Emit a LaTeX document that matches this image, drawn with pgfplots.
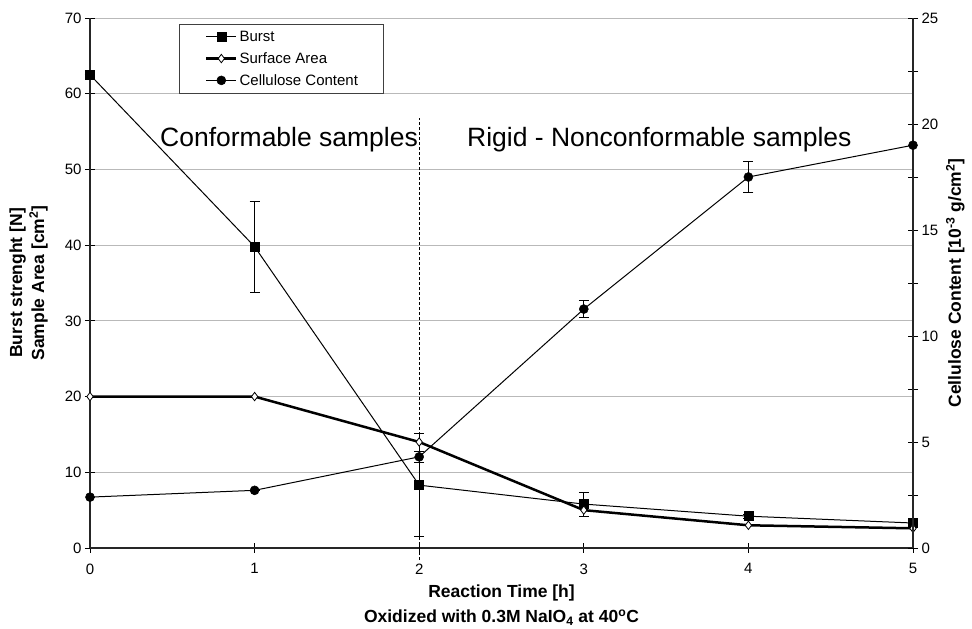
\documentclass[border=0pt]{standalone}
\usepackage{pgfplots}
\pgfplotsset{compat=1.18}
\usepackage{fontspec}
\setmainfont{Liberation Sans}

\pgfplotstableread{
x y e
0 62.5 0
1 39.8 6.0
2 8.3 6.8
3 5.8 1.6
4 4.2 0.3
5 3.3 0.2
}\burst
\pgfplotstableread{
x y
0 20
1 20
2 14
3 5
4 3
5 2.6
}\surf
\pgfplotstableread{
x y e
0 2.4 0
1 2.72 0
2 4.3 0.28
3 11.27 0.4
4 17.5 0.75
5 19.0 0
}\cell

\begin{document}
\begin{tikzpicture}[x=1pt,y=1pt]
\useasboundingbox (-90,-81) rectangle (882,548);
\pgfplotsset{
  every axis/.append style={
    width=823pt, height=530pt, scale only axis,
    xmin=0, xmax=5,
    tick align=center, major tick length=10pt, minor tick length=10pt,
    tick label style={font=\fontsize{15}{18}\selectfont, /pgf/number format/assume math mode=true},
    tick style={black, line width=0.8pt},
    axis line style={line width=1.2pt, black!85},
  },
  burststyle/.style={black, line width=1pt, mark=square*, mark size=4.5pt, mark options={solid, line width=0.5pt}},
  surfstyle/.style={black, line width=2.5pt, mark=diamond*, mark size=4.2pt, mark options={fill=white, solid, line width=0.8pt}},
  cellstyle/.style={black, line width=1pt, mark=*, mark size=4.5pt, mark options={solid, line width=0.5pt}},
  myerr/.style={error bars/.cd, y dir=both, y explicit, error bar style={line width=0.8pt, solid}, error mark options={rotate=90, black, mark size=5pt, line width=0.8pt}},
}
\begin{axis}[
  axis x line*=bottom, axis y line*=left,
  ymin=0, ymax=70, ytick={0,10,...,70}, xtick={0,...,5},
  ymajorgrids, grid style={gray!55, line width=0.8pt},
  clip=false,
  xticklabel style={yshift=-7pt},
  xlabel={Reaction Time [h]\\Oxidized with 0.3M NaIO\textsubscript{4} at 40\textsuperscript{o}C},
  xlabel style={font=\bfseries\fontsize{17.5}{25}\selectfont, align=center, at={(axis description cs:0.5,0)}, anchor=north, inner sep=0pt, yshift=-37pt},
  ylabel={Burst strenght [N]\\Sample Area [cm\textsuperscript{2}]},
  ylabel style={font=\bfseries\fontsize{17.5}{22}\selectfont, align=center, at={(axis description cs:-0.051,0.5)}, anchor=south, inner sep=0pt},
]
\addplot[burststyle, myerr] table[x=x, y=y, y error=e] {\burst};
\addplot[surfstyle] table[x=x, y=y] {\surf};
\draw[black, line width=0.6pt, dash pattern=on 3pt off 2pt] (axis cs:2,-1.6) -- (axis cs:2,56.8);
\node[font=\fontsize{26.5}{30}\selectfont, anchor=west, inner sep=0pt] at (axis cs:0.425,53.9) {Conformable samples};
\node[font=\fontsize{26.5}{30}\selectfont, anchor=west, inner sep=0pt] at (axis cs:2.29,53.9) {Rigid - Nonconformable samples};
\end{axis}
\begin{axis}[
  axis x line=none, axis y line*=right,
  ymin=0, ymax=25, ytick={0,5,...,25}, minor ytick={2.5,7.5,...,22.5},
  ylabel={Cellulose Content [10\textsuperscript{-3} g/cm\textsuperscript{2}]},
  ylabel style={font=\bfseries\fontsize{17.5}{22}\selectfont, at={(axis description cs:1.040,0.5)}, anchor=north, inner sep=0pt},
  legend style={at={(axis description cs:0.108,0.989)}, anchor=north west, draw=black!75, font=\fontsize{15}{18}\selectfont, inner ysep=5pt, row sep=5.5pt, nodes={inner sep=2pt}, cells={anchor=west}},
  legend image code/.code={\path (0pt,0pt); \draw[#1, mark repeat=2, mark phase=2] plot coordinates {(23pt,0pt) (38pt,0pt) (53pt,0pt)};},
]
\addlegendimage{burststyle}
\addlegendentry{Burst}
\addlegendimage{surfstyle, line width=2.5pt}
\addlegendentry{Surface Area}
\addplot[cellstyle, myerr] table[x=x, y=y, y error=e] {\cell};
\addlegendentry{Cellulose Content\hspace*{20pt}}
\end{axis}
\end{tikzpicture}
\end{document}
